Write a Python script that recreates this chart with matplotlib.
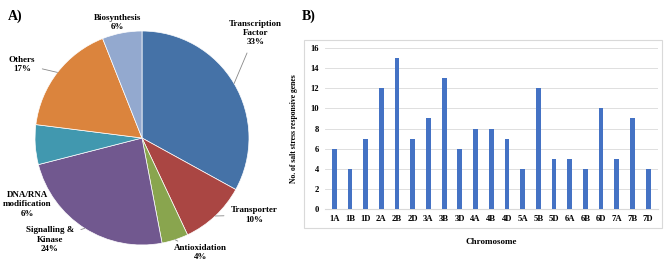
import matplotlib.pyplot as plt
import matplotlib.patches as patches
import numpy as np

plt.rcParams['font.family'] = ['Liberation Serif', 'DejaVu Serif']
plt.rcParams['font.weight'] = 'bold'

# Pie data (clockwise from 12 o'clock)
categories = ["Transcription\nFactor", "Transporter", "Antioxidation", "Signalling &\nKinase",
              "DNA/RNA\nmodification", "Others", "Biosynthesis"]
shares = [33, 10, 4, 24, 6, 17, 6]
pie_colors = ["#4572A7", "#AA4643", "#89A54E", "#71588F", "#4198AF", "#DB843D", "#93A9CF"]

# Bar data
chromosomes = ["1A", "1B", "1D", "2A", "2B", "2D", "3A", "3B", "3D", "4A", "4B", "4D",
               "5A", "5B", "5D", "6A", "6B", "6D", "7A", "7B", "7D"]
gene_counts = [6, 4, 7, 12, 15, 7, 9, 13, 6, 8, 8, 7, 4, 12, 5, 5, 4, 10, 5, 9, 4]

fig = plt.figure(figsize=(6.67, 2.65), dpi=100)

# ---- A) pie ----
ax1 = fig.add_axes([0.0525, 0.0755, 0.3208, 0.8075])
wedges, _ = ax1.pie(shares, colors=pie_colors, startangle=90, counterclock=False,
                    radius=1, wedgeprops=dict(edgecolor="white", linewidth=0.5))
ax1.set_xlim(-1, 1)
ax1.set_ylim(-1, 1)
ax1.set_aspect("equal")

# label positions (in pie-radius units) and whether a leader line is drawn
label_pos = [(1.06, 0.98), (1.05, -0.72), (0.55, -1.07), (-0.86, -0.95),
             (-1.07, -0.62), (-1.12, 0.69), (-0.23, 1.08)]
leader = [True, True, True, True, False, True, False]
for w, lab, pct, pos, ld in zip(wedges, categories, shares, label_pos, leader):
    ang = np.deg2rad((w.theta1 + w.theta2) / 2)
    tip = (np.cos(ang), np.sin(ang))
    ax1.annotate(f"{lab}\n{pct}%", xy=tip if ld else pos, xytext=pos,
                 ha="center", va="center", fontsize=6.5, fontweight="bold",
                 annotation_clip=False,
                 arrowprops=dict(arrowstyle="-", color="#888888", lw=0.6,
                                 shrinkA=3, shrinkB=0) if ld else None)

fig.text(0.012, 0.965, "A)", fontsize=10, fontweight="bold", va="top")

# ---- B) bars ----
fig.patches.append(patches.Rectangle((304 / 667, 1 - 228 / 265), 358 / 667, 188 / 265,
                                     transform=fig.transFigure, fill=False,
                                     edgecolor="#D9D9D9", linewidth=0.8))
ax2 = fig.add_axes([0.487, 0.211, 0.499, 0.608])
x = np.arange(len(chromosomes))
ax2.bar(x, gene_counts, width=0.3, color="#4472C4", zorder=3)
ax2.set_xlim(-0.6, len(chromosomes) - 0.4)
ax2.set_ylim(0, 16)
ax2.set_yticks(range(0, 17, 2))
ax2.set_xticks(x)
ax2.set_xticklabels(chromosomes)
ax2.tick_params(axis="both", labelsize=6.2, length=0, pad=4)
ax2.grid(axis="y", color="#D9D9D9", linewidth=0.6, zorder=0)
for s in ["top", "right", "left"]:
    ax2.spines[s].set_visible(False)
ax2.spines["bottom"].set_color("#D9D9D9")
ax2.set_xlabel("Chromosome", fontsize=6.5, fontweight="bold", labelpad=11)
ax2.set_ylabel("No. of salt stress responsive genes", fontsize=5.5, fontweight="bold", labelpad=9)

fig.text(0.452, 0.965, "B)", fontsize=10, fontweight="bold", va="top")

fig.savefig("out.png", dpi=100)
